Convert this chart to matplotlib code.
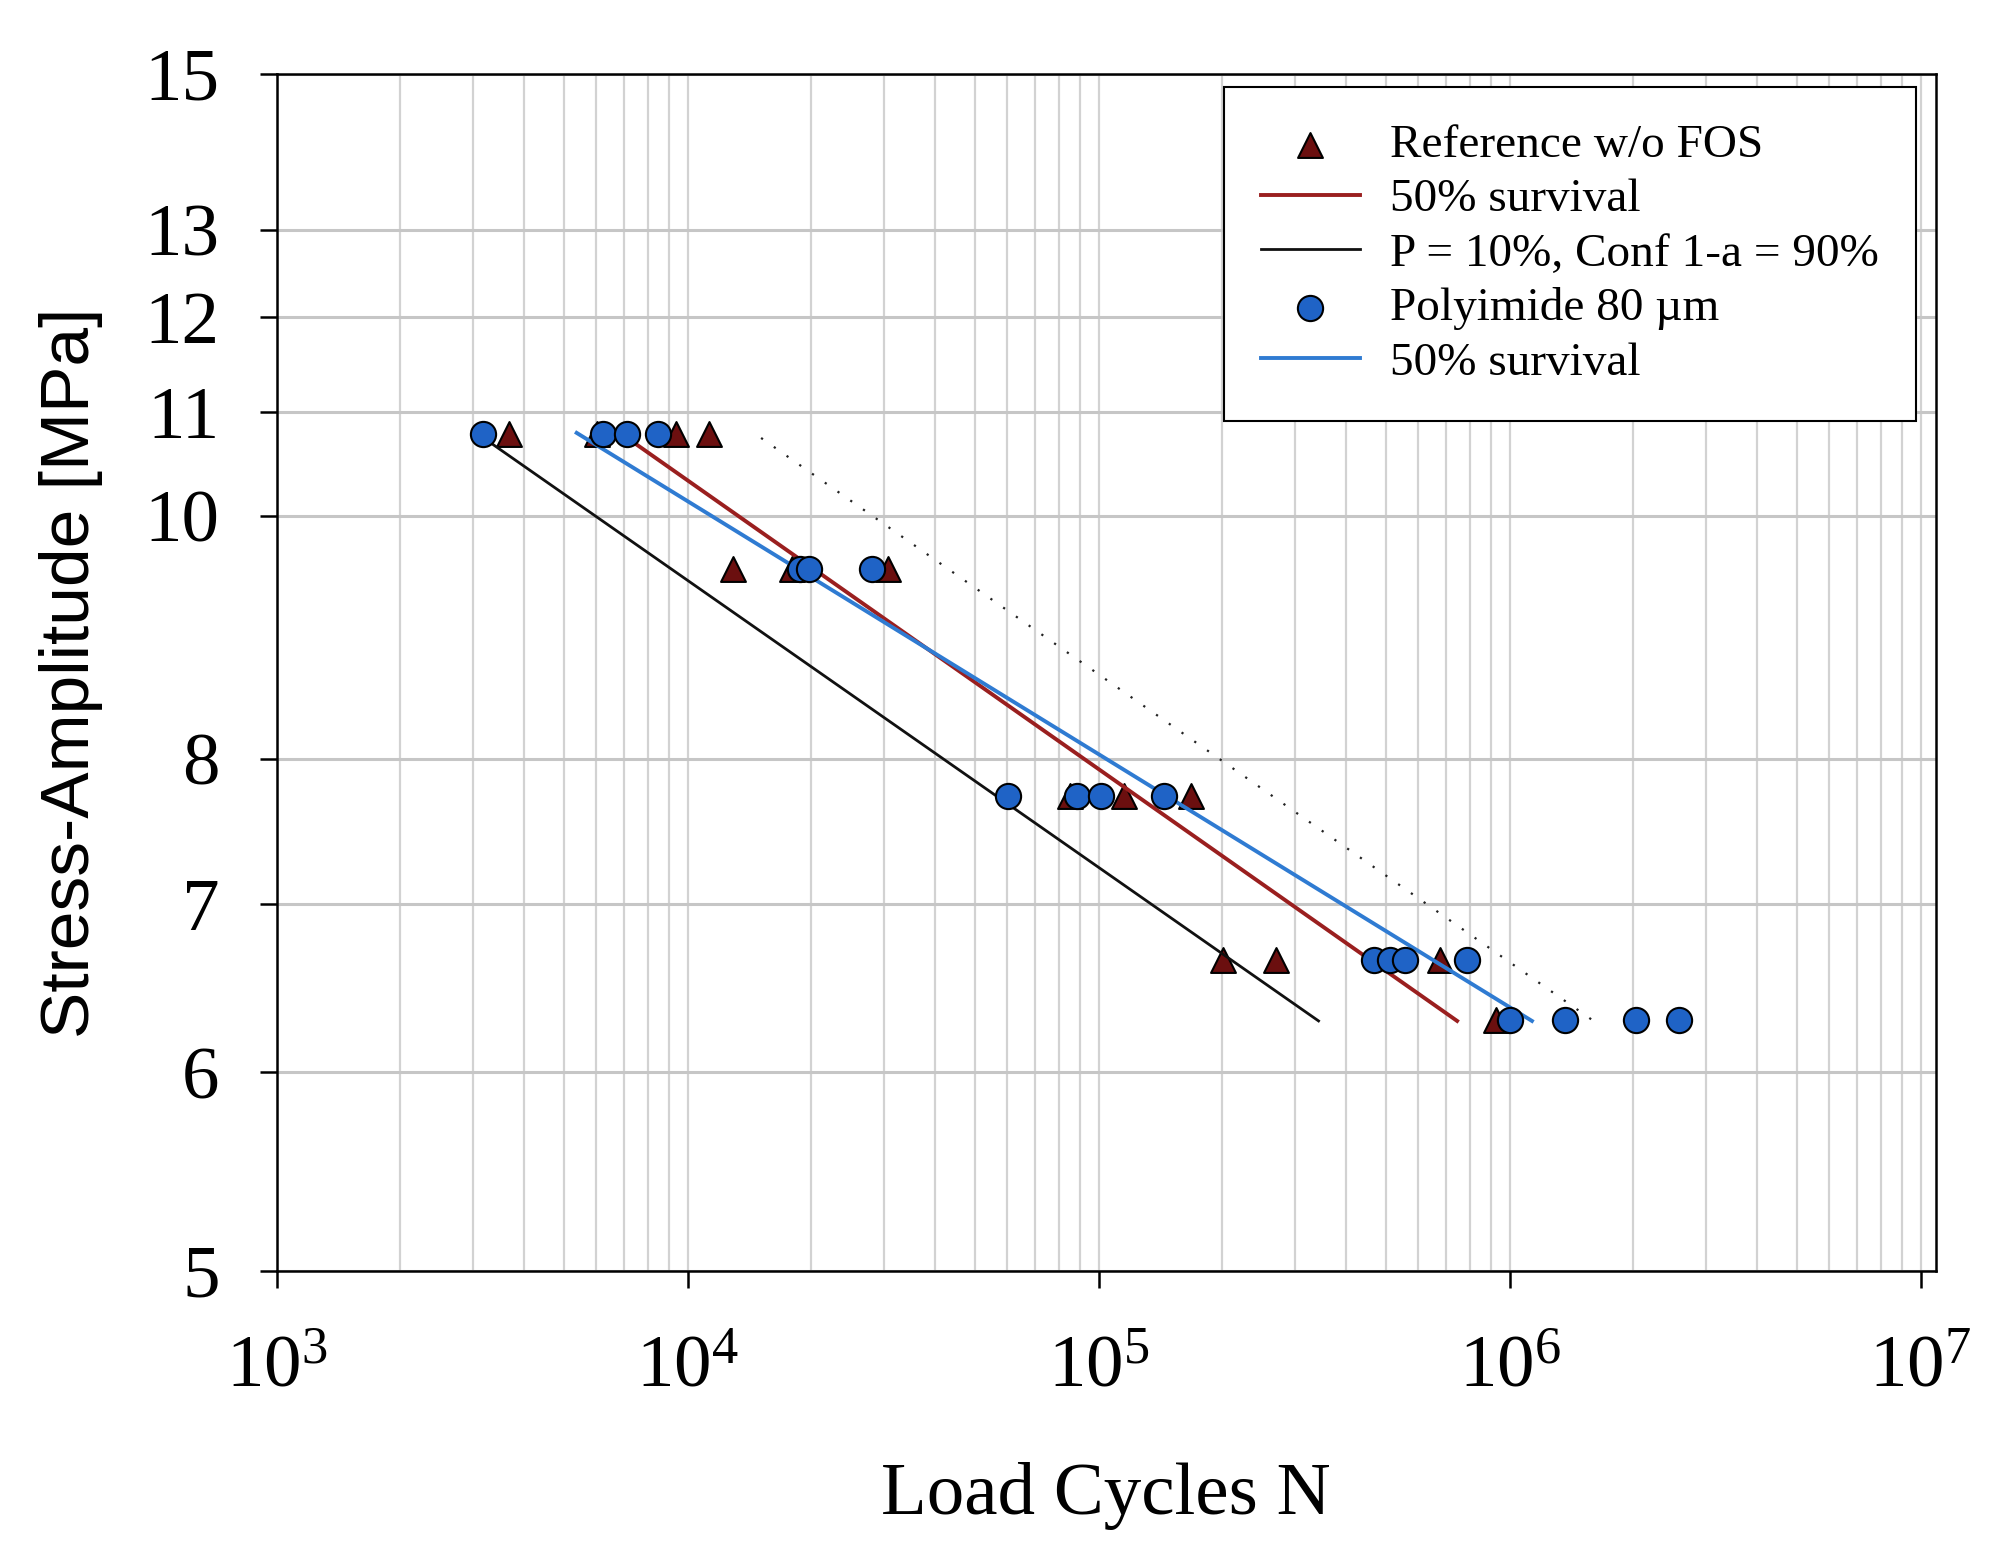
import matplotlib
matplotlib.use("Agg")
import matplotlib.pyplot as plt
import matplotlib.ticker as mticker
import numpy as np

plt.rcParams["font.family"] = ["Liberation Serif", "DejaVu Serif"]
plt.rcParams["mathtext.fontset"] = "custom"
plt.rcParams["mathtext.rm"] = "Liberation Serif"

# Reference specimens w/o FOS (load cycles, stress amplitude in MPa)
ref_N = [3681, 6009, 9372, 11290,
         12920, 17950, 30790,
         85240, 115300, 167600,
         200500, 270400, 677700,
         927700]
ref_S = [10.78, 10.78, 10.78, 10.78,
         9.52, 9.52, 9.52,
         7.73, 7.73, 7.73,
         6.653, 6.653, 6.653,
         6.295]

# Polyimide 80 um specimens
poly_N = [3172, 6234, 7110, 8486,
          18780, 19750, 28060,
          60330, 88500, 101200, 144300,
          466400, 512200, 557100, 787000,
          1003500, 1366000, 2033000, 2576000]
poly_S = [10.78, 10.78, 10.78, 10.78,
          9.52, 9.52, 9.52,
          7.73, 7.73, 7.73, 7.73,
          6.653, 6.653, 6.653, 6.653,
          6.295, 6.295, 6.295, 6.295]

# fitted Woehler lines (end points)
ref_fit_N = [7185, 745000]
ref_fit_S = [10.73, 6.29]
p10_fit_N = [3321, 342800]
p10_fit_S = [10.69, 6.29]
poly_fit_N = [5370, 1133000]
poly_fit_S = [10.79, 6.29]
dotted_N = [15090, 1600000]
dotted_S = [10.74, 6.29]

y_ticks = [5, 6, 7, 8, 10, 11, 12, 13, 15]

fig = plt.figure(figsize=(19.99, 15.63), dpi=100)
ax = fig.add_axes([0.1384, 0.1868, 0.8301, 0.7659])
ax.set_xscale("log")
ax.set_yscale("log")
ax.set_xlim(1e3, 1.09e7)
ax.set_ylim(5, 15)

ax.scatter(ref_N, ref_S, marker="^", s=320, color="#6b0f0f",
           edgecolor="black", linewidth=1.5, zorder=3,
           label="Reference w/o FOS")
ax.plot(ref_fit_N, ref_fit_S, color="#9a1f1f", lw=2.8, zorder=4,
        label="50% survival")
ax.plot(p10_fit_N, p10_fit_S, color="#111111", lw=2.0, zorder=4,
        label="P = 10%, Conf 1-a = 90%")
ax.scatter(poly_N, poly_S, marker="o", s=330, color="#1f63c6",
           edgecolor="black", linewidth=1.5, zorder=5,
           label="Polyimide 80 µm")
ax.plot(poly_fit_N, poly_fit_S, color="#2f7bd2", lw=2.8, zorder=4,
        label="50% survival")
ax.plot(dotted_N, dotted_S, color="#222222", lw=1.6,
        linestyle=(0, (1, 6)), zorder=4)

ax.yaxis.set_major_locator(mticker.FixedLocator(y_ticks))
ax.yaxis.set_major_formatter(mticker.FixedFormatter([str(v) for v in y_ticks]))
ax.yaxis.set_minor_locator(mticker.NullLocator())
ax.xaxis.set_major_locator(mticker.LogLocator(base=10, numticks=10))
ax.xaxis.set_minor_locator(mticker.LogLocator(base=10, subs=np.arange(2, 10), numticks=20))
ax.xaxis.set_major_formatter(mticker.LogFormatterMathtext())

ax.grid(True, which="major", axis="y", color="#c6c6c6", lw=2.2)
ax.grid(True, which="both", axis="x", color="#d2d2d2", lw=1.6)
ax.set_axisbelow(True)

ax.tick_params(axis="both", which="major", direction="out", length=12,
               width=1.8, labelsize=54)
ax.tick_params(axis="y", which="major", pad=29)
ax.tick_params(axis="x", which="major", pad=34)
ax.tick_params(axis="x", which="minor", length=0)
for sp in ax.spines.values():
    sp.set_linewidth(1.8)

ax.set_xlabel("Load Cycles N", fontsize=54, labelpad=43)
ax.set_ylabel("Stress-Amplitude [MPa]", fontsize=50, labelpad=30,
              family=["Liberation Sans", "DejaVu Sans"])

leg = ax.legend(loc="upper right", bbox_to_anchor=(0.988, 0.989),
                borderaxespad=0, fontsize=34, frameon=True, fancybox=False,
                edgecolor="black", framealpha=1, handlelength=2.1,
                handletextpad=0.65, labelspacing=0.24, borderpad=0.78)
leg.get_frame().set_linewidth(1.5)

fig.savefig("out.png", dpi=100)
